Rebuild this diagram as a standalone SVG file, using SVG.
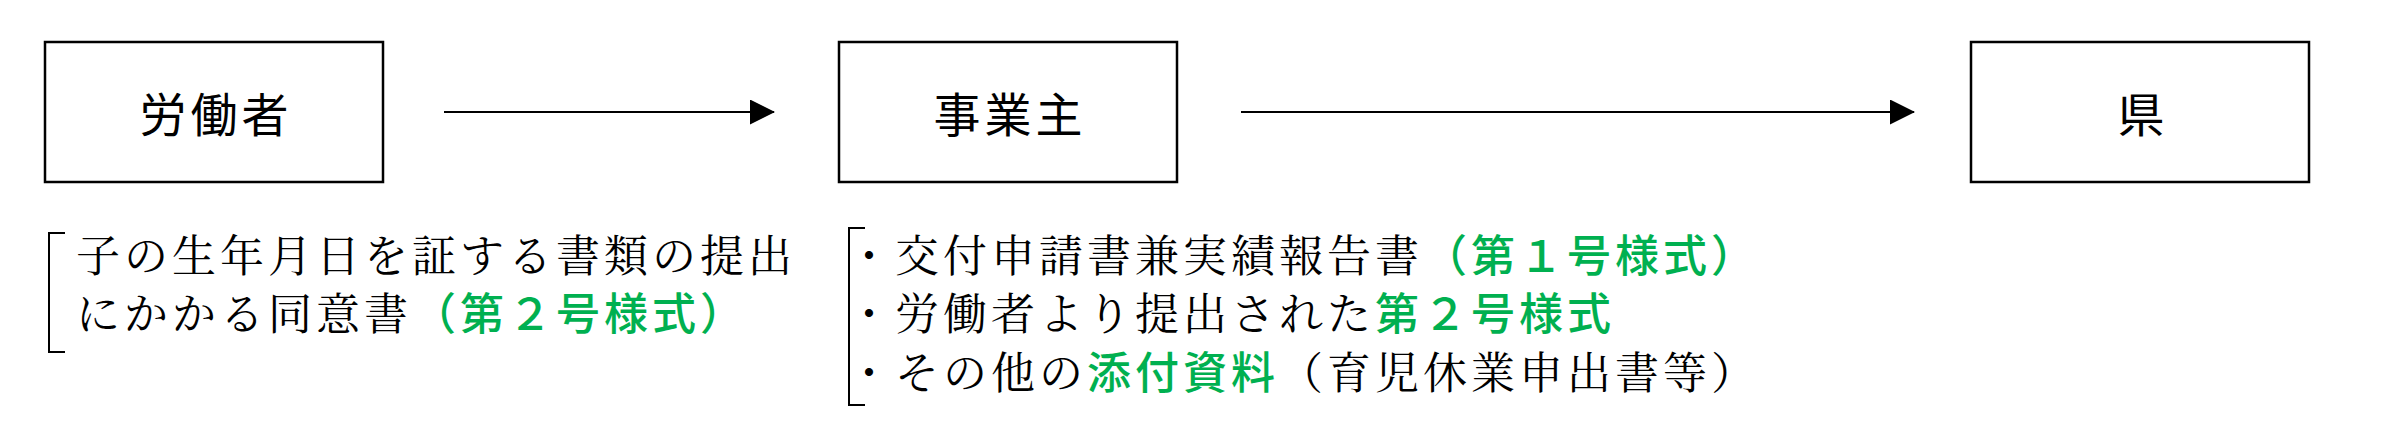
<svg xmlns="http://www.w3.org/2000/svg" width="2393" height="436" viewBox="0 0 2393 436">
  <style>
    .box { fill: #ffffff; stroke: #000000; stroke-width: 2.5; }
    .lbl { font-family: "Noto Sans CJK JP", "Noto Sans", sans-serif; font-size: 47px; fill: #000000; text-anchor: middle; letter-spacing: 4px; }
    .note { font-family: "Noto Serif CJK JP", "Noto Sans CJK JP", sans-serif; font-size: 44px; fill: #000000; letter-spacing: 4px; }
    .g { font-family: "Noto Sans CJK JP", sans-serif; fill: #00B050; font-weight: 500; }
    .conn { stroke: #000000; stroke-width: 2; fill: none; }
    .brk { stroke: #000000; stroke-width: 2; fill: none; }
  </style>
  <defs>
    <marker id="arrow" markerUnits="userSpaceOnUse" markerWidth="25" markerHeight="25" refX="24" refY="12.5" orient="auto">
      <path d="M0,0 L25,12.5 L0,25 Z" fill="#000000"/>
    </marker>
  </defs>
  <rect width="2393" height="436" fill="#ffffff"/>

  <g id="node-roudousha">
    <rect class="box" x="45" y="42" width="338" height="140"/>
    <text class="lbl" x="216" y="132">労働者</text>
  </g>
  <g id="node-jigyounushi">
    <rect class="box" x="839" y="42" width="338" height="140"/>
    <text class="lbl" x="1010" y="132">事業主</text>
  </g>
  <g id="node-ken">
    <rect class="box" x="1971" y="42" width="338" height="140"/>
    <text class="lbl" x="2143" y="132">県</text>
  </g>

  <g id="connectors">
    <line class="conn" x1="444" y1="112" x2="774" y2="112" marker-end="url(#arrow)"/>
    <line class="conn" x1="1241" y1="112" x2="1914" y2="112" marker-end="url(#arrow)"/>
  </g>

  <g id="note-roudousha">
    <path class="brk" d="M65,233 L49,233 L49,352 L65,352"/>
    <text class="note" x="76" y="272">子の生年月日を証する書類の提出</text>
    <text class="note" x="76" y="330">にかかる同意書<tspan class="g">（第２号様式）</tspan></text>
  </g>

  <g id="note-jigyounushi">
    <path class="brk" d="M865,228 L849,228 L849,405 L865,405"/>
    <text class="note" x="847" y="272">・交付申請書兼実績報告書<tspan class="g">（第１号様式）</tspan></text>
    <text class="note" x="847" y="330">・労働者より提出された<tspan class="g">第２号様式</tspan></text>
    <text class="note" x="847" y="389">・その他の<tspan class="g">添付資料</tspan>（育児休業申出書等）</text>
  </g>
</svg>
